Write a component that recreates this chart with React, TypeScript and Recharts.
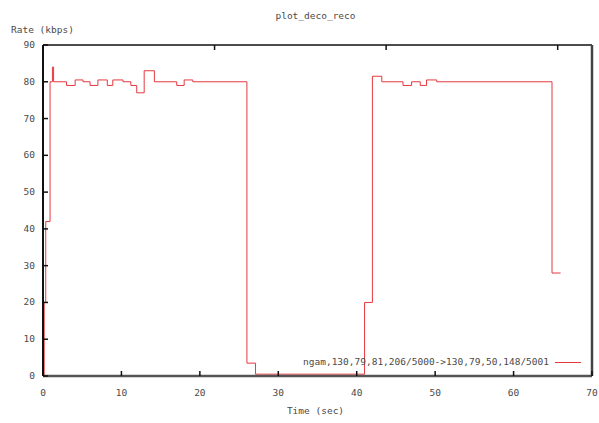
import { Line, LineChart, XAxis, YAxis } from "recharts";

// step data: time (sec), rate (kbps)
const times = [
  0, 0.15, 0.35, 0.9, 1.2, 1.35, 3.0, 4.1, 5.1, 6.0, 7.0, 8.2, 8.9, 10.2, 11.2, 11.95,
  12.9, 14.2, 17.05, 18.0, 19.1, 26.0, 27.1, 41.0, 42.0, 43.2, 45.9, 47.0, 48.1,
  48.9, 50.2, 64.9, 66.0,
];
const rates = [
  0, 20, 42, 80, 84, 80, 79, 80.5, 80, 79, 80.5, 79, 80.5, 80, 79, 77,
  83, 80, 79, 80.5, 80, 3.5, 0.5, 20, 81.5, 80, 79, 80, 79,
  80.5, 80, 28, 28,
];
const xTicks = [0, 10, 20, 30, 40, 50, 60, 70];
const yTicks = [0, 10, 20, 30, 40, 50, 60, 70, 80, 90];

const data = times.map((t, i) => ({ t, v: rates[i] }));

const FONT = "'DejaVu Sans Mono', monospace";
const TXT = "#4a4a4a";
const RED = "#e4393f";

const BottomTick = (p: any) => (
  <g>
    <line x1={p.x} x2={p.x} y1={p.y} y2={p.y - 5} stroke="#111" strokeWidth={1.5} />
    <text x={p.x} y={p.y + 20} textAnchor="middle" fontSize={9.5} fontFamily={FONT} fill={TXT}>
      {p.payload.value}
    </text>
  </g>
);
const TopTick = (p: any) => (
  <line x1={p.x} x2={p.x} y1={p.y} y2={p.y + 5} stroke="#111" strokeWidth={1.5} />
);
const LeftTick = (p: any) => (
  <g>
    <line x1={p.x} x2={p.x + 5} y1={p.y} y2={p.y} stroke="#111" strokeWidth={1.5} />
    <text x={p.x - 8} y={p.y + 3} textAnchor="end" fontSize={9.5} fontFamily={FONT} fill={TXT}>
      {p.payload.value}
    </text>
  </g>
);
const RightTick = (p: any) => (
  <line x1={p.x} x2={p.x - 5} y1={p.y} y2={p.y} stroke="#111" strokeWidth={1.5} />
);

export default function App() {
  return (
    <div style={{ position: "absolute", left: 0, top: 0, width: 599, height: 423, background: "#fff" }}>
      <LineChart
        width={599}
        height={423}
        data={data}
        margin={{ top: 44, right: 6, bottom: 46, left: 42 }}
      >
        <XAxis
          dataKey="t"
          type="number"
          domain={[0, 70]}
          ticks={xTicks}
          height={1}
          tickSize={0}
          tickMargin={0}
          tickLine={false}
          tick={BottomTick}
          axisLine={{ stroke: "#555", strokeWidth: 2.5 }}
          interval={0}
        />
        <XAxis
          xAxisId="top"
          orientation="top"
          type="number"
          domain={[0, 70]}
          ticks={xTicks}
          height={1}
          tickSize={0}
          tickMargin={0}
          tickLine={false}
          tick={TopTick}
          axisLine={{ stroke: "#111", strokeWidth: 1.5 }}
          interval={0}
        />
        <YAxis
          type="number"
          domain={[0, 90]}
          ticks={yTicks}
          width={1}
          tickSize={0}
          tickMargin={0}
          tickLine={false}
          tick={LeftTick}
          axisLine={{ stroke: "#111", strokeWidth: 2 }}
          interval={0}
        />
        <YAxis
          yAxisId="right"
          orientation="right"
          type="number"
          domain={[0, 90]}
          ticks={yTicks}
          width={1}
          tickSize={0}
          tickMargin={0}
          tickLine={false}
          tick={RightTick}
          axisLine={{ stroke: "#444", strokeWidth: 2.5 }}
          interval={0}
        />
        <Line
          type="stepAfter"
          dataKey="v"
          stroke={RED}
          strokeWidth={1}
          dot={false}
          isAnimationActive={false}
        />
      </LineChart>
      <div style={{ position: "absolute", left: 0, width: 599, top: 10, textAlign: "center", fontFamily: FONT, fontSize: 9.5, color: TXT, paddingLeft: 32, boxSizing: "border-box" }}>
        plot_deco_reco
      </div>
      <div style={{ position: "absolute", left: 11, top: 24, fontFamily: FONT, fontSize: 9.5, color: TXT }}>
        Rate (kbps)
      </div>
      <div style={{ position: "absolute", left: 0, width: 599, top: 405, textAlign: "center", fontFamily: FONT, fontSize: 9.5, color: TXT, paddingLeft: 32, boxSizing: "border-box" }}>
        Time (sec)
      </div>
      <div style={{ position: "absolute", right: 50, top: 356, fontFamily: FONT, fontSize: 9.5, color: TXT, whiteSpace: "nowrap" }}>
        ngam,130,79,81,206/5000-&gt;130,79,50,148/5001
      </div>
      <div style={{ position: "absolute", left: 555, top: 362, width: 26, height: 1, background: RED }} />
    </div>
  );
}
